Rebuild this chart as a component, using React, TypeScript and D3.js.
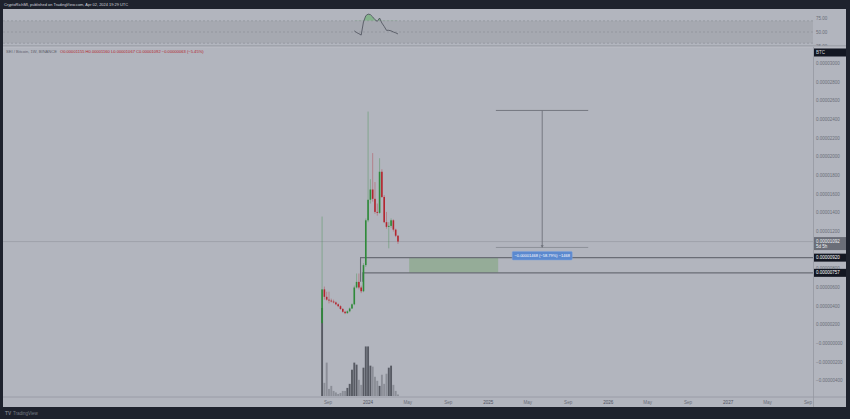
import React from "react";
import * as d3 from "d3";

const headerText = "CryptoRichMI, published on TradingView.com, Apr 02, 2024 19:29 UTC";
const symbolText = "SEI / Bitcoin, 1W, BINANCE";
const ohlcText = "O0.00001155 H0.00001160 L0.00001067 C0.00001092 −0.00000063 (−5.45%)";

// weekly candles (values in satoshis, 1e-8 BTC)
const weeks = [
  "2023-08-14", "2023-08-21", "2023-08-28", "2023-09-04", "2023-09-11", "2023-09-18", "2023-09-25",
  "2023-10-02", "2023-10-09", "2023-10-16", "2023-10-23", "2023-10-30", "2023-11-06", "2023-11-13",
  "2023-11-20", "2023-11-27", "2023-12-04", "2023-12-11", "2023-12-18", "2023-12-25", "2024-01-01",
  "2024-01-08", "2024-01-15", "2024-01-22", "2024-01-29", "2024-02-05", "2024-02-12", "2024-02-19",
  "2024-02-26", "2024-03-04", "2024-03-11", "2024-03-18", "2024-03-25", "2024-04-01",
];
const opens = [220, 580, 500, 470, 460, 450, 440, 420, 400, 370, 340, 325, 345, 375, 420, 600, 660, 600, 560, 840, 1320, 1540, 1650, 1550, 1410, 1400, 1840, 1570, 1300, 1250, 1260, 1320, 1220, 1155];
const highs = [1360, 610, 555, 555, 480, 470, 450, 430, 410, 380, 350, 355, 385, 430, 620, 750, 750, 620, 860, 1340, 2485, 1760, 2040, 1730, 1500, 1985, 1867, 1590, 1410, 1300, 1340, 1330, 1230, 1160];
const lows = [210, 470, 460, 430, 440, 430, 410, 390, 360, 330, 315, 320, 335, 370, 410, 590, 580, 540, 550, 820, 1300, 1500, 1520, 1390, 1370, 1390, 1560, 1290, 1230, 1020, 1240, 1200, 1140, 1067];
const closes = [580, 500, 470, 460, 450, 440, 420, 400, 370, 340, 325, 345, 375, 420, 600, 660, 600, 560, 840, 1320, 1540, 1650, 1550, 1410, 1400, 1840, 1570, 1300, 1250, 1260, 1320, 1220, 1155, 1092];
const volumes = [87, 13, 33, 7, 10, 5, 3.5, 2, 3, 5, 5, 8, 12, 26, 33, 31, 16, 11, 28, 49, 49, 30, 29, 19, 15, 10, 21, 12, 22, 28, 30, 11, 5, 1.5];

// RSI, starting at week index 14
const rsiWeeks = weeks.slice(14);
const rsiValues = [52, 49, 47, 44.5, 68, 79, 82, 81, 77, 72, 69, 75, 66, 60, 53, 53, 52, 50, 48.5, 46.5];
const rsiTicks = [75, 50, 25];

const priceTicks = [-400, -200, 0, 200, 400, 600, 800, 1000, 1200, 1400, 1600, 1800, 2000, 2200, 2400, 2600, 2800, 3000];
const timeTicks = [
  "2023-09-01", "2024-01-01", "2024-05-01", "2024-09-01", "2025-01-01", "2025-05-01", "2025-09-01",
  "2026-01-01", "2026-05-01", "2026-09-01", "2027-01-01", "2027-05-01", "2027-09-01",
];
const timeLabels = ["Sep", "2024", "May", "Sep", "2025", "May", "Sep", "2026", "May", "Sep", "2027", "May", "Sep"];

// drawings
const levelPrices = [920, 757];
const levelStarts = ["2023-12-09", "2023-12-16"];
const levelFoot = 662;
const zoneStart = "2024-05-05";
const zoneEnd = "2025-01-31";
const measureStart = "2025-01-24";
const measureEnd = "2025-11-01";
const measureMid = "2025-06-14";
const measureTop = 2497;
const measureBottom = 1029;
const measureLabel = "−0.00001468 (−58.79%) −1468";
const lastPriceSub = "5d 5h";

const FONT = "'Liberation Sans', Arial, sans-serif";
const d = (s: string) => new Date(s + "T00:00:00Z");
const fmt = (v: number) => (v <= 0 ? "−" : "") + (Math.abs(v) / 1e8).toFixed(8);

export default function App() {
  const L = 3, R = 813, T = 9, B = 407;
  const mainTop = 47, axisY = 397;
  const bg = "#b2b5be";

  const x = d3.scaleUtc().domain([d("2023-09-01"), d("2027-09-01")]).range([328, 808]);
  const y = d3.scaleLinear().domain([0, 3000]).range([343.5, 63.5]);
  const yR = d3.scaleLinear().domain([30, 70]).range([43.2, 20.8]);
  const yV = d3.scaleLinear().domain([0, d3.max(volumes) as number]).range([396, 308]);

  const up = "#2f8a3a", down = "#b3262f";
  const rsiPts = rsiWeeks.map((w, i) => [x(d(w)), rsiValues[i]] as [number, number]);
  const rsiLine = d3.line<[number, number]>().x(p => p[0]).y(p => yR(p[1]))(rsiPts) || "";
  const rsiArea = d3.area<[number, number]>().x(p => p[0]).y0(yR(70)).y1(p => yR(p[1]))(rsiPts) || "";

  const last = closes[closes.length - 1];
  const lastY = y(last);
  const hiddenTick = (v: number) => Math.abs(y(v) - (lastY + 2.5)) < 8.5;

  return (
    <svg width={850} height={419} style={{ position: "absolute", left: 0, top: 0, display: "block" }} fontFamily={FONT}>
      <defs>
        <clipPath id="mainClip"><rect x={L} y={mainTop} width={R - L} height={axisY - mainTop} /></clipPath>
        <clipPath id="rsiClip"><rect x={L} y={T} width={R - L} height={mainTop - T - 1} /></clipPath>
        <clipPath id="rsiTop"><rect x={L} y={T} width={R - L} height={yR(70) - T} /></clipPath>
        <clipPath id="axisClip"><rect x={R} y={T} width={846 - R} height={mainTop - T - 1} /></clipPath>
      </defs>
      <rect x={0} y={0} width={850} height={419} fill="#1e222d" />
      <text x={4} y={6.3} fontSize={3.95} fill="#d1d4dc">{headerText}</text>
      <rect x={L} y={T} width={846 - L} height={B - T} fill={bg} />

      {/* RSI pane */}
      <rect x={L} y={yR(70)} width={R - L} height={yR(30) - yR(70)} fill="#a6a9b1" />
      {[70, 50, 30].map(v => (
        <line key={v} x1={L} x2={R} y1={yR(v)} y2={yR(v)} stroke="#8a8d96" strokeWidth={0.6} strokeDasharray="2,2" />
      ))}
      <g clipPath="url(#rsiClip)">
        <path d={rsiArea} fill="rgba(76,175,80,0.45)" clipPath="url(#rsiTop)" />
        <path d={rsiLine} fill="none" stroke="#4a4e59" strokeWidth={0.8} />
      </g>
      <g clipPath="url(#axisClip)">
        {rsiTicks.map(v => (
          <text key={v} x={816} y={yR(v)} dy="0.35em" fontSize={4.5} fill="#6a6d78">{v.toFixed(2)}</text>
        ))}
      </g>
      <line x1={L} x2={846} y1={mainTop - 1} y2={mainTop - 1} stroke="#8f929b" strokeWidth={1} />
      <line x1={L} x2={846} y1={mainTop} y2={mainTop} stroke="#c4c7cf" strokeWidth={0.6} />

      {/* legend */}
      <text x={6} y={52.5} fontSize={4.1} fill="#5d606b">
        {symbolText}
        <tspan dx={3} fill="#b3262f">{ohlcText}</tspan>
      </text>

      <g clipPath="url(#mainClip)">
        {/* last price line */}
        <line x1={L} x2={R} y1={lastY} y2={lastY} stroke="#9a9da6" strokeWidth={0.8} />

        {/* volume */}
        {volumes.map((v, i) => (
          <rect key={"v" + i} x={x(d(weeks[i])) - 0.95} width={1.9} y={yV(v)} height={396 - yV(v)}
            fill={closes[i] >= opens[i] ? "#575a63" : "#8b8e97"} />
        ))}

        {/* zone */}
        <rect x={x(d(zoneStart))} width={x(d(zoneEnd)) - x(d(zoneStart))} y={y(levelPrices[0])}
          height={y(levelPrices[1]) - y(levelPrices[0])} fill="#95ac98" />
        {/* levels */}
        {levelPrices.map((p, i) => (
          <path key={"l" + i} d={`M${x(d(levelStarts[i]))},${y(levelFoot)}V${y(p)}H${R}`} fill="none"
            stroke="#6a6d76" strokeWidth={1.1} />
        ))}

        {/* candles */}
        {weeks.map((w, i) => {
          const cx = x(d(w));
          const c = closes[i] >= opens[i] ? up : down;
          const top = y(Math.max(opens[i], closes[i]));
          const bot = y(Math.min(opens[i], closes[i]));
          return (
            <g key={"c" + i}>
              <line x1={cx} x2={cx} y1={y(highs[i])} y2={y(lows[i])} stroke={c} strokeOpacity={0.4} strokeWidth={0.9} />
              <rect x={cx - 0.8} width={1.6} y={top} height={Math.max(0.8, bot - top)} fill={c} />
            </g>
          );
        })}

        {/* measure tool */}
        <line x1={x(d(measureStart))} x2={x(d(measureEnd))} y1={y(measureTop)} y2={y(measureTop)} stroke="#6d7079" strokeWidth={0.9} />
        <line x1={x(d(measureStart))} x2={x(d(measureEnd))} y1={y(measureBottom)} y2={y(measureBottom)} stroke="#8a8d95" strokeWidth={0.9} />
        <line x1={x(d(measureMid))} x2={x(d(measureMid))} y1={y(measureTop)} y2={y(measureBottom)} stroke="#6d7079" strokeWidth={0.9} />
        <path d={`M${x(d(measureMid)) - 1.6},${y(measureBottom) - 2.2}L${x(d(measureMid)) + 1.6},${y(measureBottom) - 2.2}L${x(d(measureMid))},${y(measureBottom)}Z`} fill="#6d7079" />
        <rect x={x(d(measureMid)) - 30} y={y(measureBottom) + 4} width={60} height={8.5} rx={1} fill="#5b89cf" stroke="#7ea3dc" strokeWidth={0.5} />
        <text x={x(d(measureMid))} y={y(measureBottom) + 8.3} dy="0.35em" textAnchor="middle" fontSize={4} fill="#ffffff">{measureLabel}</text>
      </g>

      {/* price axis */}
      <line x1={R + 0.5} x2={R + 0.5} y1={mainTop} y2={B} stroke="#9598a1" strokeWidth={0.8} />
      {priceTicks.filter(v => !hiddenTick(v)).map(v => (
        <text key={"p" + v} x={816} y={y(v)} dy="0.35em" fontSize={4.5} fill="#6a6d78">{fmt(v)}</text>
      ))}
      <rect x={814} y={48.5} width={32} height={8} fill="#131722" />
      <text x={816} y={52.5} dy="0.35em" fontSize={4.5} fill="#d1d4dc">BTC</text>
      <rect x={814} y={lastY - 4.5} width={32} height={13} fill="#6b6e78" />
      <text x={816} y={lastY} dy="0.35em" fontSize={4.5} fill="#eef0f4">{fmt(last)}</text>
      <text x={816} y={lastY + 5.3} dy="0.35em" fontSize={4.5} fill="#eef0f4">{lastPriceSub}</text>
      {levelPrices.map(p => (
        <g key={"b" + p}>
          <rect x={814} y={y(p) - 4} width={32} height={8} fill="#131722" />
          <text x={816} y={y(p)} dy="0.35em" fontSize={4.5} fill="#ffffff">{fmt(p)}</text>
        </g>
      ))}

      {/* time axis */}
      <line x1={L} x2={846} y1={axisY} y2={axisY} stroke="#9598a1" strokeWidth={0.8} />
      {timeTicks.map((t, i) => (
        <text key={"t" + i} x={x(d(t))} y={402} dy="0.35em" textAnchor="middle" fontSize={4.6}
          fill={/\d/.test(timeLabels[i]) ? "#50535e" : "#6a6d78"}>{timeLabels[i]}</text>
      ))}

      {/* watermark */}
      <text x={5} y={413} dy="0.35em" fontSize={4.8} fontWeight="bold" fill="#787b86">TV</text>
      <text x={13} y={413} dy="0.35em" fontSize={4.5} fill="#787b86">TradingView</text>
    </svg>
  );
}
